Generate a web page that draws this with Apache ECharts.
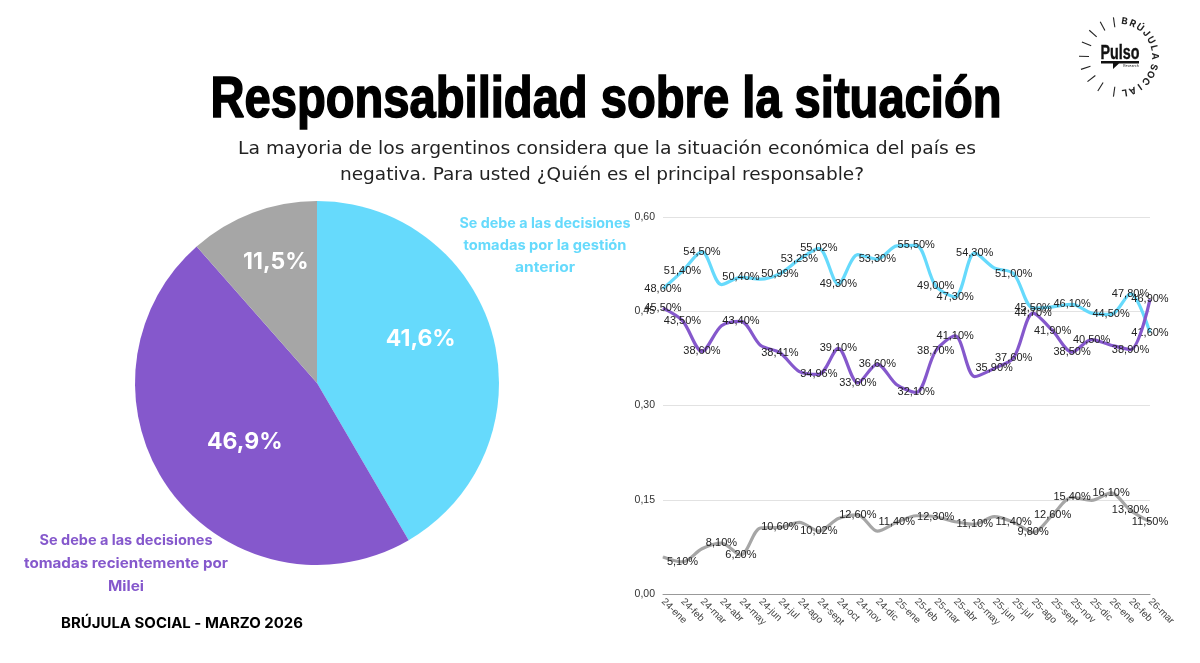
<!DOCTYPE html>
<html><head><meta charset="utf-8">
<style>html,body{margin:0;padding:0;background:#fff}#c{width:1200px;height:663px}</style>
<script src="https://cdn.jsdelivr.net/npm/echarts@6/dist/echarts.min.js"></script>
</head><body><div id="c"></div>
<script>
const months = ['24-ene','24-feb','24-mar','24-abr','24-may','24-jun','24-jul','24-ago','24-sept','24-oct','24-nov','24-dic','25-ene','25-feb','25-mar','25-abr','25-may','25-jun','25-jul','25-ago','25-sept','25-nov','25-dic','26-ene','26-feb','26-mar'];
const gestionAnterior = [48.6,51.4,54.5,49.25,50.4,50.1,50.99,53.25,55.02,49.3,54.0,53.3,55.4,55.5,49.0,47.3,54.3,51.9,51.0,45.5,45.7,46.1,44.7,44.5,47.8,41.6];
const milei = [45.5,43.5,38.6,42.7,43.4,39.6,38.41,35.4,34.96,39.1,33.6,36.6,33.3,32.1,38.7,41.1,34.6,35.9,37.6,44.7,41.9,38.5,40.5,39.6,38.9,46.9];
const otros = [5.9,5.1,7.2,8.1,6.2,10.5,10.6,11.4,10.02,12.0,12.6,10.0,11.4,12.45,12.3,11.5,11.1,12.3,11.4,9.8,12.6,15.4,14.9,16.1,13.3,11.5];
const gestionLabeled = [0,1,2,4,6,7,8,9,11,13,14,15,16,18,19,21,23,24,25];
const mileiLabeled = [0,1,2,4,6,8,9,10,11,13,14,15,17,18,19,20,21,22,24,25];
const otrosLabeled = [1,3,4,6,8,10,12,14,16,18,19,20,21,23,24,25];
const pieNames = ['Gestión anterior','Milei','Otros'];
const pieValues = [41.6,46.9,11.5];
const pieColors = ['#66DAFC','#8558CC','#A6A6A6'];
const yTicks = {min:0,max:60,step:15};

const comma = (v,d)=>v.toFixed(d).replace('.',',');
function lineSeries(name,values,labeled,color,dy,z){
  return {type:'line',name,data:values,smooth:0.3,z,
    showSymbol:true,showAllSymbol:true,symbol:'circle',symbolSize:1,
    itemStyle:{color},lineStyle:{color,width:3.2},
    label:{show:true,position:'inside',offset:[0,dy],color:'#222',fontFamily:'Liberation Sans',fontSize:11,
      formatter:p=>labeled.includes(p.dataIndex)?comma(p.value,2)+'%':''},
    labelLayout:{hideOverlap:false},
    emphasis:{disabled:true},animation:false};
}
const mctx=document.createElement('canvas').getContext('2d');
const g=[];
// o.w: width in pixels the line should occupy
const T=(text,x,y,o)=>{
  mctx.font=o.f; const sx=o.w?o.w/mctx.measureText(text).width:1;
  g.push({type:'text',x,y,silent:true,scaleX:sx,z:20,
    style:{text,fill:o.c||'#000',font:o.f,textAlign:'center',textVerticalAlign:'middle',stroke:o.s?(o.c||'#000'):null,lineWidth:o.s||0}});
};
T('Responsabilidad sobre la situación',606,101,{f:'700 57px "Liberation Sans"',w:791,s:1.6});
T('La mayoria de los argentinos considera que la situación económica del país es',607,149,{f:'400 18.5px "DejaVu Sans"',c:'#222',w:738});
T('negativa. Para usted ¿Quién es el principal responsable?',602,175,{f:'400 18.5px "DejaVu Sans"',c:'#222',w:524});
[['Se debe a las decisiones',171],['tomadas por la gestión',163],['anterior',60]].forEach(([s,w],i)=>T(s,545,224+i*22,{f:'700 14px Inter',c:'#66DAFC',w}));
[['Se debe a las decisiones',173],['tomadas recientemente por',204],['Milei',36]].forEach(([s,w],i)=>T(s,126,541+i*23,{f:'700 14px Inter',c:'#8558CC',w}));
T('BRÚJULA SOCIAL - MARZO 2026',182,624,{f:'700 14.5px Inter',w:242});

// logo
const cx=1119,cy=57;
[-8,-28,-48,-68,-89,-108,-128,-148,-172].forEach(a=>{
  const r=a*Math.PI/180;
  g.push({type:'line',silent:true,z:20,shape:{x1:cx+30*Math.sin(r),y1:cy-30*Math.cos(r),x2:cx+40*Math.sin(r),y2:cy-40*Math.cos(r)},style:{stroke:'#222',lineWidth:1.1}});
});
const letter=(ch,a)=>{const r=a*Math.PI/180;
  g.push({type:'text',silent:true,z:20,x:cx+36*Math.sin(r),y:cy-36*Math.cos(r),rotation:-r,
    style:{text:ch,fill:'#222',font:'700 9.5px Inter',textAlign:'center',textVerticalAlign:'middle'}});};
[...'BRÚJULA'].forEach((ch,i)=>letter(ch,9+i*13.3));
[...'SOCIAL'].forEach((ch,i)=>letter(ch,106+i*13));
T('Pulso',1120,53,{f:'700 20px "Liberation Sans"',c:'#111',w:39,s:0.4});
g.push({type:'polygon',silent:true,z:20,shape:{points:[[1101,61],[1139,61],[1139,63.5],[1119,63.5],[1113,69],[1113,63.5],[1101,63.5]]},style:{fill:'#111'}});
T('Research',1131,66,{f:'400 3.5px Inter',c:'#111'});

const chart=echarts.init(document.getElementById('c'),null,{renderer:'canvas'});
chart.setOption({
  animation:false,backgroundColor:'#fff',
  grid:{left:663,right:50,top:217,bottom:69,containLabel:false},
  xAxis:{type:'category',data:months,boundaryGap:false,
    axisTick:{show:false},axisLine:{lineStyle:{color:'#999',width:1}},
    axisLabel:{interval:0,rotate:-45,color:'#444',fontFamily:'Liberation Sans',fontSize:10,margin:6,hideOverlap:false}},
  yAxis:{type:'value',min:yTicks.min,max:yTicks.max,interval:yTicks.step,
    axisLine:{show:false},axisTick:{show:false},
    splitLine:{lineStyle:{color:'#e2e2e2',width:1}},
    axisLabel:{color:'#333',fontFamily:'Liberation Sans',fontSize:10.5,margin:8,formatter:v=>comma(v/100,2)}},
  series:[
    lineSeries('Otros',otros,otrosLabeled,'#A6A6A6',5,3),
    lineSeries('Gestión anterior',gestionAnterior,gestionLabeled,'#66DAFC',-7,4),
    lineSeries('Milei',milei,mileiLabeled,'#8558CC',5,5),
    {type:'pie',center:[317,383],radius:[0,182],startAngle:90,clockwise:true,silent:true,animation:false,
     labelLine:{show:false},
     data:pieValues.map((v,i)=>({name:pieNames[i],value:v,itemStyle:{color:pieColors[i]},
       label:{show:true,position:'inside',offset:[[13,-19],[4,4],[-8,-33]][i],
         formatter:comma(v,1)+'%',color:'#fff',fontFamily:'Inter',fontWeight:700,fontSize:23}}))}
  ],
  graphic:g
});
</script></body></html>
